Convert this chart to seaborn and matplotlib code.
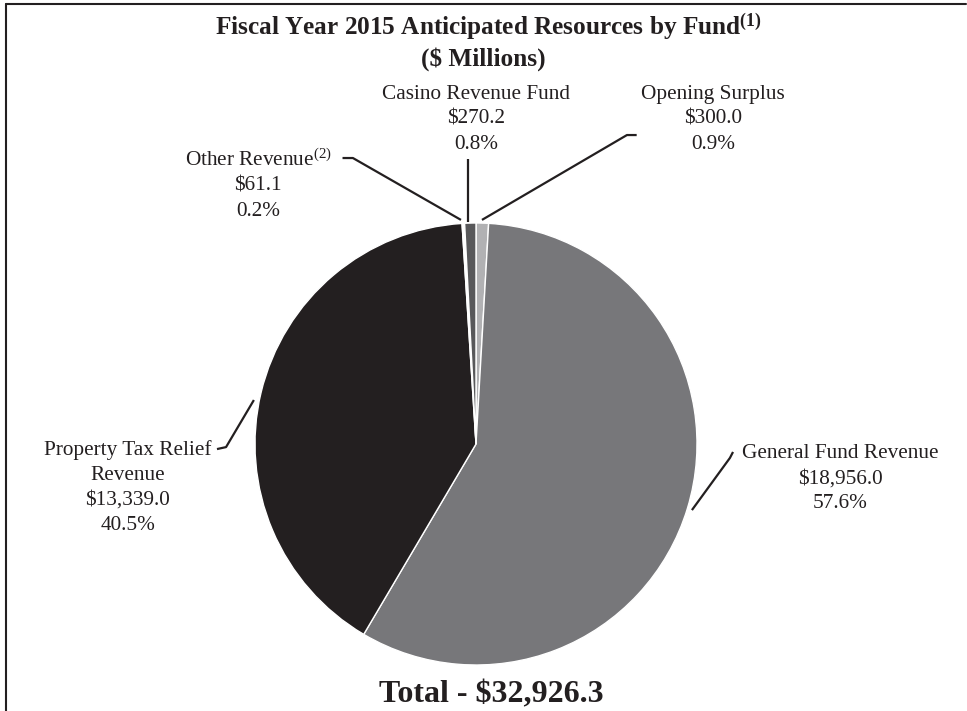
import matplotlib
matplotlib.use("Agg")
import matplotlib.pyplot as plt
from matplotlib.lines import Line2D
import seaborn as sns

# Fiscal Year 2015 anticipated resources ($ millions), clockwise from 12 o'clock
funds = ["Opening Surplus", "General Fund Revenue", "Property Tax Relief\nRevenue",
         "Other Revenue$^{(2)}$", "Casino Revenue Fund"]
amounts = [300.0, 18956.0, 13339.0, 61.1, 270.2]
colors = ["#b1b1b3", "#77777a", "#231f20", "#ffffff", "#58585a"]
total_label = "Total - $32,926.3"

sns.set_theme(style="white")
plt.rcParams["font.family"] = ["Liberation Serif", "DejaVu Serif"]
plt.rcParams["mathtext.fontset"] = "custom"
plt.rcParams["mathtext.rm"] = "Liberation Serif"
plt.rcParams["mathtext.bf"] = "Liberation Serif:bold"
plt.rcParams["mathtext.it"] = "Liberation Serif:italic"

W, H = 967, 711
fig = plt.figure(figsize=(W / 100, H / 100), dpi=100)
fig.patch.set_facecolor("white")

# pie axes: centre (476, 444) px, radius 221 px
cx, cy, R = 476, 444, 221
ax = fig.add_axes([(cx - R) / W, (H - cy - R) / H, 2 * R / W, 2 * R / H])
ax.pie(amounts, colors=colors, startangle=90, counterclock=False, radius=1.0,
       wedgeprops=dict(edgecolor="white", linewidth=1.0))
ax.set_xlim(-1, 1)
ax.set_ylim(-1, 1)
ax.set_aspect("equal")
ax.axis("off")

total = sum(amounts)

# label anchor (data units) and leader-line path for each slice
label_pos = [(1.072, 1.47), (1.647, -0.157), (-1.575, -0.197), (-0.986, 1.172), (0.0, 1.47)]
leaders = [
    [(0.027, 1.014), (0.683, 1.398), (0.727, 1.398)],
    [(0.977, -0.299), (1.149, -0.063), (1.163, -0.036)],
    [(-1.005, 0.199), (-1.131, -0.014), (-1.172, -0.023)],
    [(-0.068, 1.014), (-0.557, 1.294), (-0.604, 1.294)],
    [(-0.036, 1.005), (-0.036, 1.29)],
]

for name, amt, pos, path in zip(funds, amounts, label_pos, leaders):
    pct = amt / total * 100
    txt = f"{name}\n\\${amt:,.1f}\n{pct:.1f}%"
    ax.text(pos[0], pos[1], txt, ha="center", va="center", fontsize=15.3,
            color="#231f20", linespacing=1.42, clip_on=False)
    xs, ys = zip(*path)
    ax.plot(xs, ys, color="#231f20", lw=1.6, clip_on=False, solid_capstyle="butt")

fig.text(488 / W, 1 - 27 / H, r"Fiscal Year 2015 Anticipated Resources by Fund$^{\mathbf{(1)}}$",
         ha="center", va="center", fontsize=18.2, fontweight="bold", color="#231f20")
fig.text(483 / W, 1 - 59 / H, "(\\$ Millions)", ha="center", va="center",
         fontsize=18.2, fontweight="bold", color="#231f20")
fig.text(491 / W, 1 - 695 / H, total_label.replace("$", "\\$"), ha="center", va="center",
         fontsize=23, fontweight="bold", color="#231f20")

# frame lines (left and top)
fig.add_artist(Line2D([6 / W, 6 / W], [0, 1 - 3.5 / H], transform=fig.transFigure,
                      color="#231f20", lw=1.5))
fig.add_artist(Line2D([6 / W, 966 / W], [1 - 3.5 / H, 1 - 3.5 / H], transform=fig.transFigure,
                      color="#231f20", lw=1.5))

fig.savefig("out.png", dpi=100, facecolor="white")
